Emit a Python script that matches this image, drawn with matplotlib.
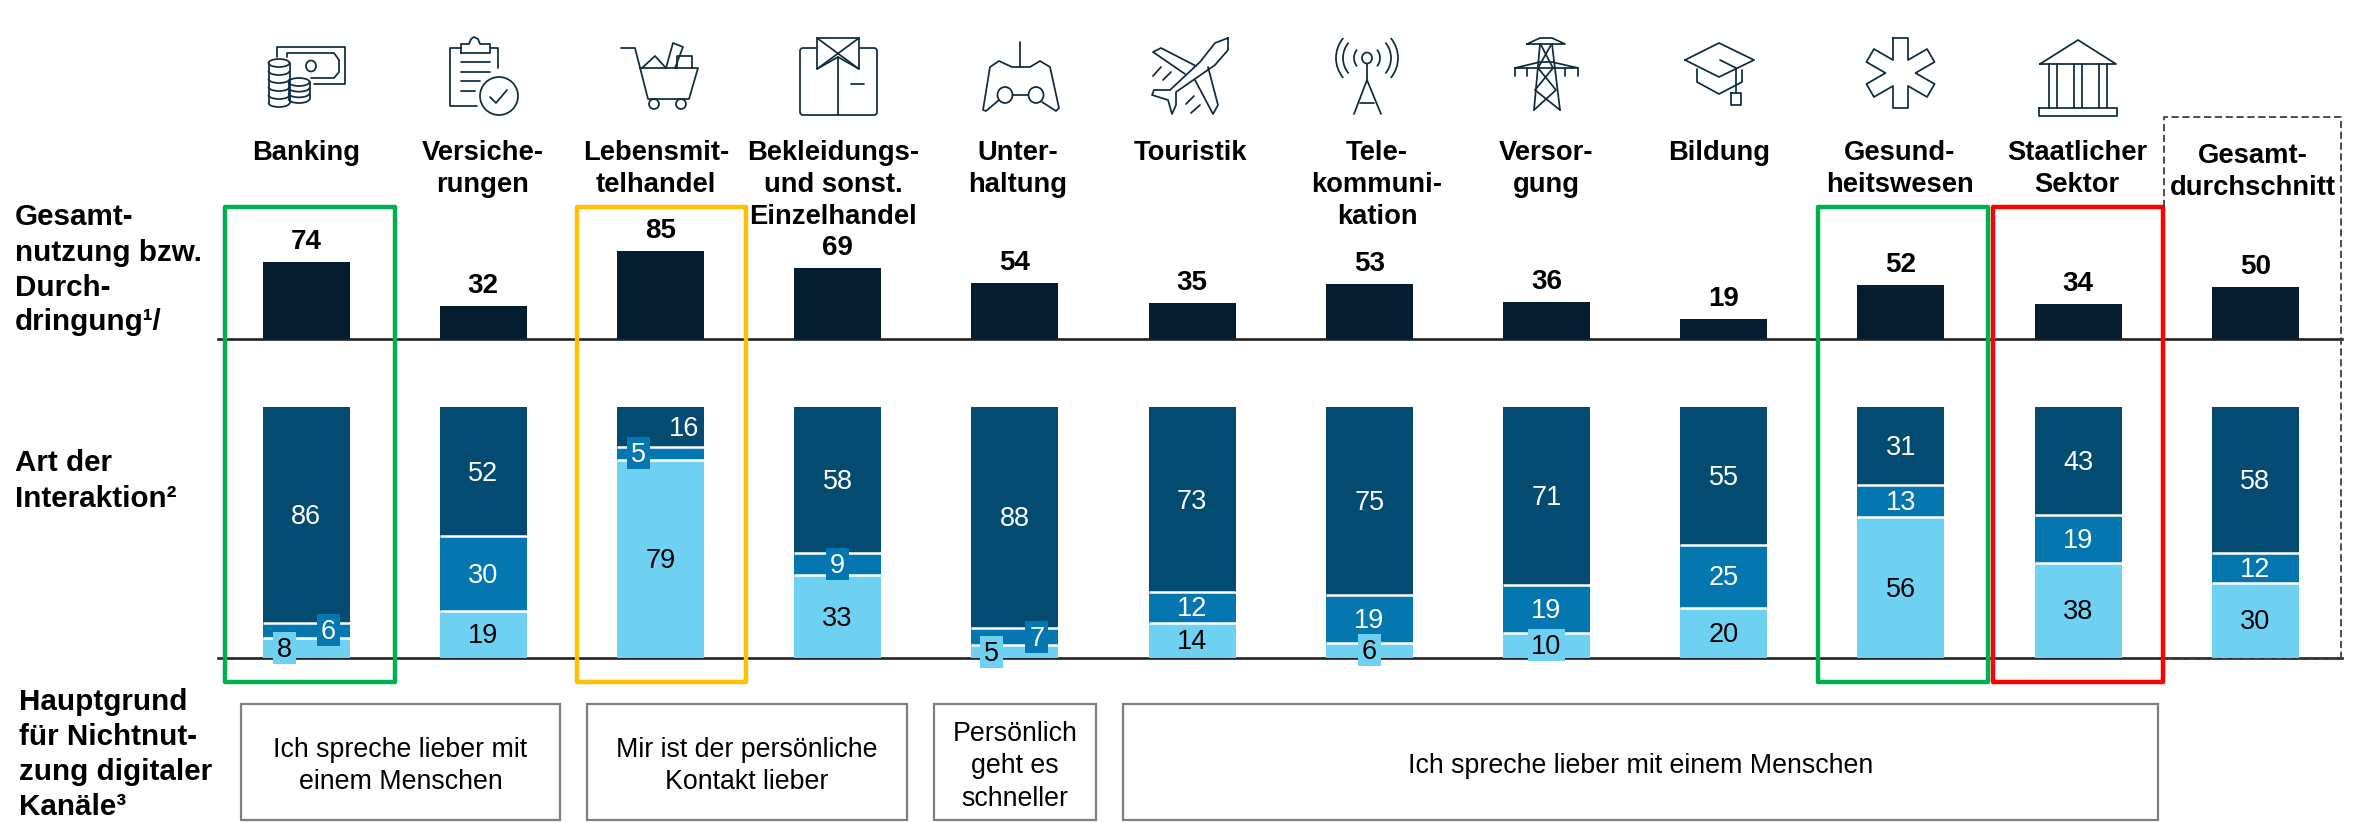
import numpy as np
import matplotlib
matplotlib.use('Agg')
import matplotlib.pyplot as plt
from matplotlib.patches import Rectangle, Ellipse, Arc, Polygon, FancyBboxPatch

plt.rcParams['font.family'] = ['Liberation Sans', 'DejaVu Sans']

W, H = 2357, 822

overall = [74, 32, 85, 69, 54, 35, 53, 36, 19, 52, 34, 50]
persoenlich = [8, 19, 79, 33, 5, 14, 6, 10, 20, 56, 38, 30]
telefon = [6, 30, 5, 9, 7, 12, 19, 19, 25, 13, 19, 12]
digital = [86, 52, 16, 58, 88, 73, 75, 71, 55, 31, 43, 58]

headers = ['Banking', 'Versiche-\nrungen', 'Lebensmit-\ntelhandel',
           'Bekleidungs-\nund sonst.\nEinzelhandel', 'Unter-\nhaltung', 'Touristik',
           'Tele-\nkommuni-\nkation', 'Versor-\ngung', 'Bildung',
           'Gesund-\nheitswesen', 'Staatlicher\nSektor', 'Gesamt-\ndurchschnitt']
header_x = [306, 483, 656, 833, 1018, 1190, 1377, 1546, 1719, 1900, 2077, 2253]

reasons = ['Ich spreche lieber mit\neinem Menschen', 'Mir ist der persönliche\nKontakt lieber',
           'Persönlich\ngeht es\nschneller', 'Ich spreche lieber mit einem Menschen']
reason_x0 = [241, 587, 934, 1123]
reason_x1 = [560, 907, 1096, 2158]

DARK = '#051D2E'
C_TOP = '#034B70'
C_MID = '#0477B0'
C_LOW = '#6FD1F2'
INK = '#0D2A3E'

fig = plt.figure(figsize=(W / 100, H / 100), dpi=100)
bg = fig.add_axes([0, 0, 1, 1])
bg.set_xlim(0, W)
bg.set_ylim(H, 0)
bg.axis('off')

STEP = 177.2
X0 = 306
LEFT, RIGHT = 218, 2342
n = len(overall)
pos = np.arange(n)


def make_axes(y_top, y_bot, ymax):
    ax = fig.add_axes([LEFT / W, 1 - y_bot / H, (RIGHT - LEFT) / W, (y_bot - y_top) / H])
    ax.set_xlim((LEFT - X0) / STEP, (RIGHT - X0) / STEP)
    ax.set_ylim(0, ymax)
    ax.axis('off')
    ax.patch.set_alpha(0)
    return ax


BAR_W = 87 / STEP

# Gesamtnutzung
ax1 = make_axes(205, 339, 134 / 1.035)
ax1.bar(pos, overall, BAR_W, color=DARK)
for i, v in enumerate(overall):
    ax1.annotate(str(v), (i, v), xytext=(0, 20), textcoords='offset pixels',
                 ha='center', va='center', fontsize=20, fontweight='bold', color='black')

# Art der Interaktion, auf 100 normiert
ax2 = make_axes(407, 658, 100)
low = np.array(persoenlich, dtype=float)
mid = np.array(telefon, dtype=float)
top = np.array(digital, dtype=float)
total = low + mid + top
low, mid, top = low / total * 100, mid / total * 100, top / total * 100
ax2.bar(pos, low, BAR_W, color=C_LOW)
ax2.bar(pos, mid, BAR_W, bottom=low, color=C_MID)
ax2.bar(pos, top, BAR_W, bottom=low + mid, color=C_TOP)
for i in pos:
    for b in [low[i], low[i] + mid[i]]:
        ax2.plot([i - BAR_W / 2, i + BAR_W / 2], [b, b], color='white', lw=1.8, solid_capstyle='butt')

shift = {(0, 0): -22, (0, 1): 22, (2, 1): -22, (2, 2): 24, (4, 0): -23, (4, 1): 22}
for i in pos:
    segs = [(persoenlich[i], 0, low[i] / 2, C_LOW, 'black'),
            (telefon[i], 1, low[i] + mid[i] / 2, C_MID, 'white'),
            (digital[i], 2, low[i] + mid[i] + top[i] / 2, C_TOP, 'white')]
    for v, k, yc, col, tc in segs:
        dx = shift.get((i, k), 0)
        if v <= 10:
            tw = (23 if v < 10 else 37) / STEP
            th = 32 / 2.51
            ax2.add_patch(Rectangle((i + dx / STEP - tw / 2, yc - th / 2), tw, th, fc=col, ec='none',
                                    clip_on=False, zorder=4))
        ax2.annotate(str(v), (i, yc), xytext=(dx, -2), textcoords='offset pixels',
                     ha='center', va='center', fontsize=19.5, color=tc,
                     annotation_clip=False, zorder=5)

# Linien
for y in [339, 658]:
    bg.plot([LEFT, RIGHT], [y, y], color='#222222', lw=1.9, zorder=1)

for x, t in zip(header_x, headers):
    y = 156 if t.startswith('Gesamt') else 153
    for j, line in enumerate(t.split('\n')):
        bg.text(x, y + j * 32, line, ha='center', va='center', fontsize=19.7, fontweight='bold', color='black')

left_labels = [(15, 215, 'Gesamt-'), (15, 251, 'nutzung bzw.'), (15, 286, 'Durch-'), (15, 320, 'dringung¹/'),
               (15, 461, 'Art der'), (15, 497, 'Interaktion²'),
               (19, 700, 'Hauptgrund'), (19, 735, 'für Nichtnut-'), (19, 770, 'zung digitaler'), (19, 805, 'Kanäle³')]
for x, y, t in left_labels:
    bg.text(x, y + 2, t, ha='left', va='center', fontsize=21.3, fontweight='bold', color='black')

for x0, x1, t in zip(reason_x0, reason_x1, reasons):
    bg.add_patch(Rectangle((x0, 704), x1 - x0, 116, fc='white', ec='#7F7F7F', lw=1.6))
    lines = t.split('\n')
    for j, line in enumerate(lines):
        bg.text((x0 + x1) / 2, 766 + (j - (len(lines) - 1) / 2) * 32.5, line, ha='center', va='center',
                fontsize=19.3, color='black')

# Rahmen
frames = [(225, 395, '#00B050'), (577, 746, '#FFC000'), (1818, 1988, '#00B050'), (1993, 2163, '#FF0000')]
for x0, x1, c in frames:
    bg.add_patch(Rectangle((x0, 207), x1 - x0, 475, fc='none', ec=c, lw=3.2, zorder=4, joinstyle='round'))
ax1.set_zorder(2)
ax2.set_zorder(3)
bg.plot([2164, 2164, 2341, 2341, 2164], [207, 117, 117, 658, 658], color='#404040', lw=1.3, ls=(0, (4, 2)), zorder=5)


# Icons
def pl(*pts, closed=False):
    xs = [p[0] for p in pts]
    ys = [p[1] for p in pts]
    if closed:
        xs.append(xs[0])
        ys.append(ys[0])
    bg.plot(xs, ys, color=INK, lw=1.25, solid_joinstyle='round', solid_capstyle='round')


def el(x, y, w, h):
    bg.add_patch(Ellipse((x, y), w, h, fc='none', ec=INK, lw=1.25))


def coins(x, y0, y1, k):
    w = 21
    el(x, y0 + 4, w, 8)
    step = (y1 - y0 - 8) / k
    pl((x - w / 2, y0 + 4), (x - w / 2, y1 - 4))
    pl((x + w / 2, y0 + 4), (x + w / 2, y1 - 4))
    for j in range(1, k + 1):
        bg.add_patch(Arc((x, y0 + 4 + j * step), w, 8, theta1=0, theta2=180, ec=INK, lw=1.25))


# Banking
pl((277, 57), (277, 47), (345, 47), (345, 84), (314, 84))
pl((287, 57), (287, 53), (334, 53), (339, 60), (339, 72), (334, 78), (311, 78))
el(311, 66, 10, 11)
coins(279, 59, 107, 5)
coins(299, 78, 103, 3)

# Versicherung
pl((477, 106), (450, 106), (450, 48), (461, 48))
pl((490, 48), (498, 48), (498, 68))
pl((461, 53), (461, 44), (469, 44), (471, 39), (474, 37), (478, 39), (480, 44), (490, 44), (490, 53), closed=True)
pl((461, 62), (490, 62))
pl((461, 72), (490, 72))
pl((461, 81), (480, 81))
pl((461, 91), (475, 91))
el(499, 96, 38, 38)
pl((490, 97), (496, 103), (507, 90))

# Einkaufswagen
pl((621, 48), (635, 48), (648, 99), (689, 99), (698, 68), (640, 68))
el(654, 104, 10, 10)
el(681, 104, 10, 10)
pl((642, 68), (655, 56), (666, 68))
pl((666, 68), (673, 43), (683, 47), (675, 68))
pl((677, 68), (677, 56), (692, 56), (692, 68))

# Hemd
bg.add_patch(FancyBboxPatch((800, 48), 77, 67, boxstyle='round,pad=0,rounding_size=3', fc='none', ec=INK, lw=1.25))
bg.add_patch(Polygon([(817, 38), (859, 38), (859, 69), (838, 57), (817, 69)], fc='white', ec=INK, lw=1.25))
pl((817, 38), (859, 69))
pl((859, 38), (817, 69))
pl((838, 57), (838, 115))
pl((851, 84), (864, 84))

# Gamepad
pl((1020, 42), (1020, 67))
pl((999, 100), (986, 111), (983, 110), (990, 67), (999, 61), (1012, 67), (1030, 67), (1040, 61), (1050, 67),
   (1059, 108), (1056, 111), (1042, 102))
el(1005, 95, 15, 16)
el(1036, 95, 15, 16)
pl((1013, 95), (1028, 95))

# Flugzeug
pl((1228, 38), (1215, 43), (1200, 62), (1170, 90), (1154, 90), (1152, 95), (1168, 100), (1172, 114), (1176, 105),
   (1176, 92), (1215, 65), (1228, 50), closed=True)
pl((1196, 66), (1161, 48), (1153, 52), (1185, 74))
pl((1195, 80), (1213, 114), (1218, 105), (1208, 67))
pl((1153, 76), (1161, 67))
pl((1163, 80), (1171, 72))
pl((1186, 104), (1194, 96))
pl((1191, 113), (1200, 105))

# Funkmast
el(1367, 58, 10, 11)
for r in [13, 24, 31]:
    bg.add_patch(Arc((1367, 58), 2 * r, 2 * r, theta1=-40, theta2=40, ec=INK, lw=1.25))
    bg.add_patch(Arc((1367, 58), 2 * r, 2 * r, theta1=140, theta2=220, ec=INK, lw=1.25))
pl((1367, 64), (1367, 80))
pl((1354, 114), (1367, 80), (1381, 114))
pl((1360, 103), (1374, 103))

# Strommast
pl((1527, 44), (1540, 38), (1552, 38), (1565, 44), closed=True)
pl((1540, 44), (1534, 110))
pl((1552, 44), (1560, 110))
pl((1515, 68), (1540, 62), (1552, 62), (1578, 68), closed=True)
pl((1515, 68), (1515, 76))
pl((1578, 68), (1578, 76))
pl((1527, 68), (1527, 76))
pl((1565, 68), (1565, 76))
pl((1541, 45), (1553, 68), (1535, 90), (1560, 110))
pl((1551, 45), (1538, 68), (1556, 90), (1534, 110))

# Bildung
pl((1685, 60), (1719, 43), (1754, 60), (1719, 77), closed=True)
pl((1697, 69), (1697, 82), (1719, 94), (1742, 82), (1742, 70))
pl((1720, 60), (1736, 68), (1736, 93))
pl((1731, 93), (1741, 93), (1741, 105), (1731, 105), closed=True)

# Gesundheit
cx, cy = 1900.5, 73
verts = []
for a in np.radians(np.arange(0, 360, 60)):
    u = np.array([np.sin(a), -np.cos(a)])
    v = np.array([np.cos(a), np.sin(a)])
    verts.append(np.array([cx, cy]) + u * 35 - v * 7.5)
    verts.append(np.array([cx, cy]) + u * 35 + v * 7.5)
    verts.append(np.array([cx, cy]) + u * 13 + v * 7.5)
pl(*[tuple(p) for p in verts], closed=True)

# Staat
pl((2040, 64), (2078, 40), (2116, 64), closed=True)
for x in [2049, 2057, 2074, 2082, 2099, 2107]:
    pl((x, 64), (x, 108))
pl((2039, 108), (2117, 108), (2117, 116), (2039, 116), closed=True)

fig.savefig('out.png', dpi=100, facecolor='white')
